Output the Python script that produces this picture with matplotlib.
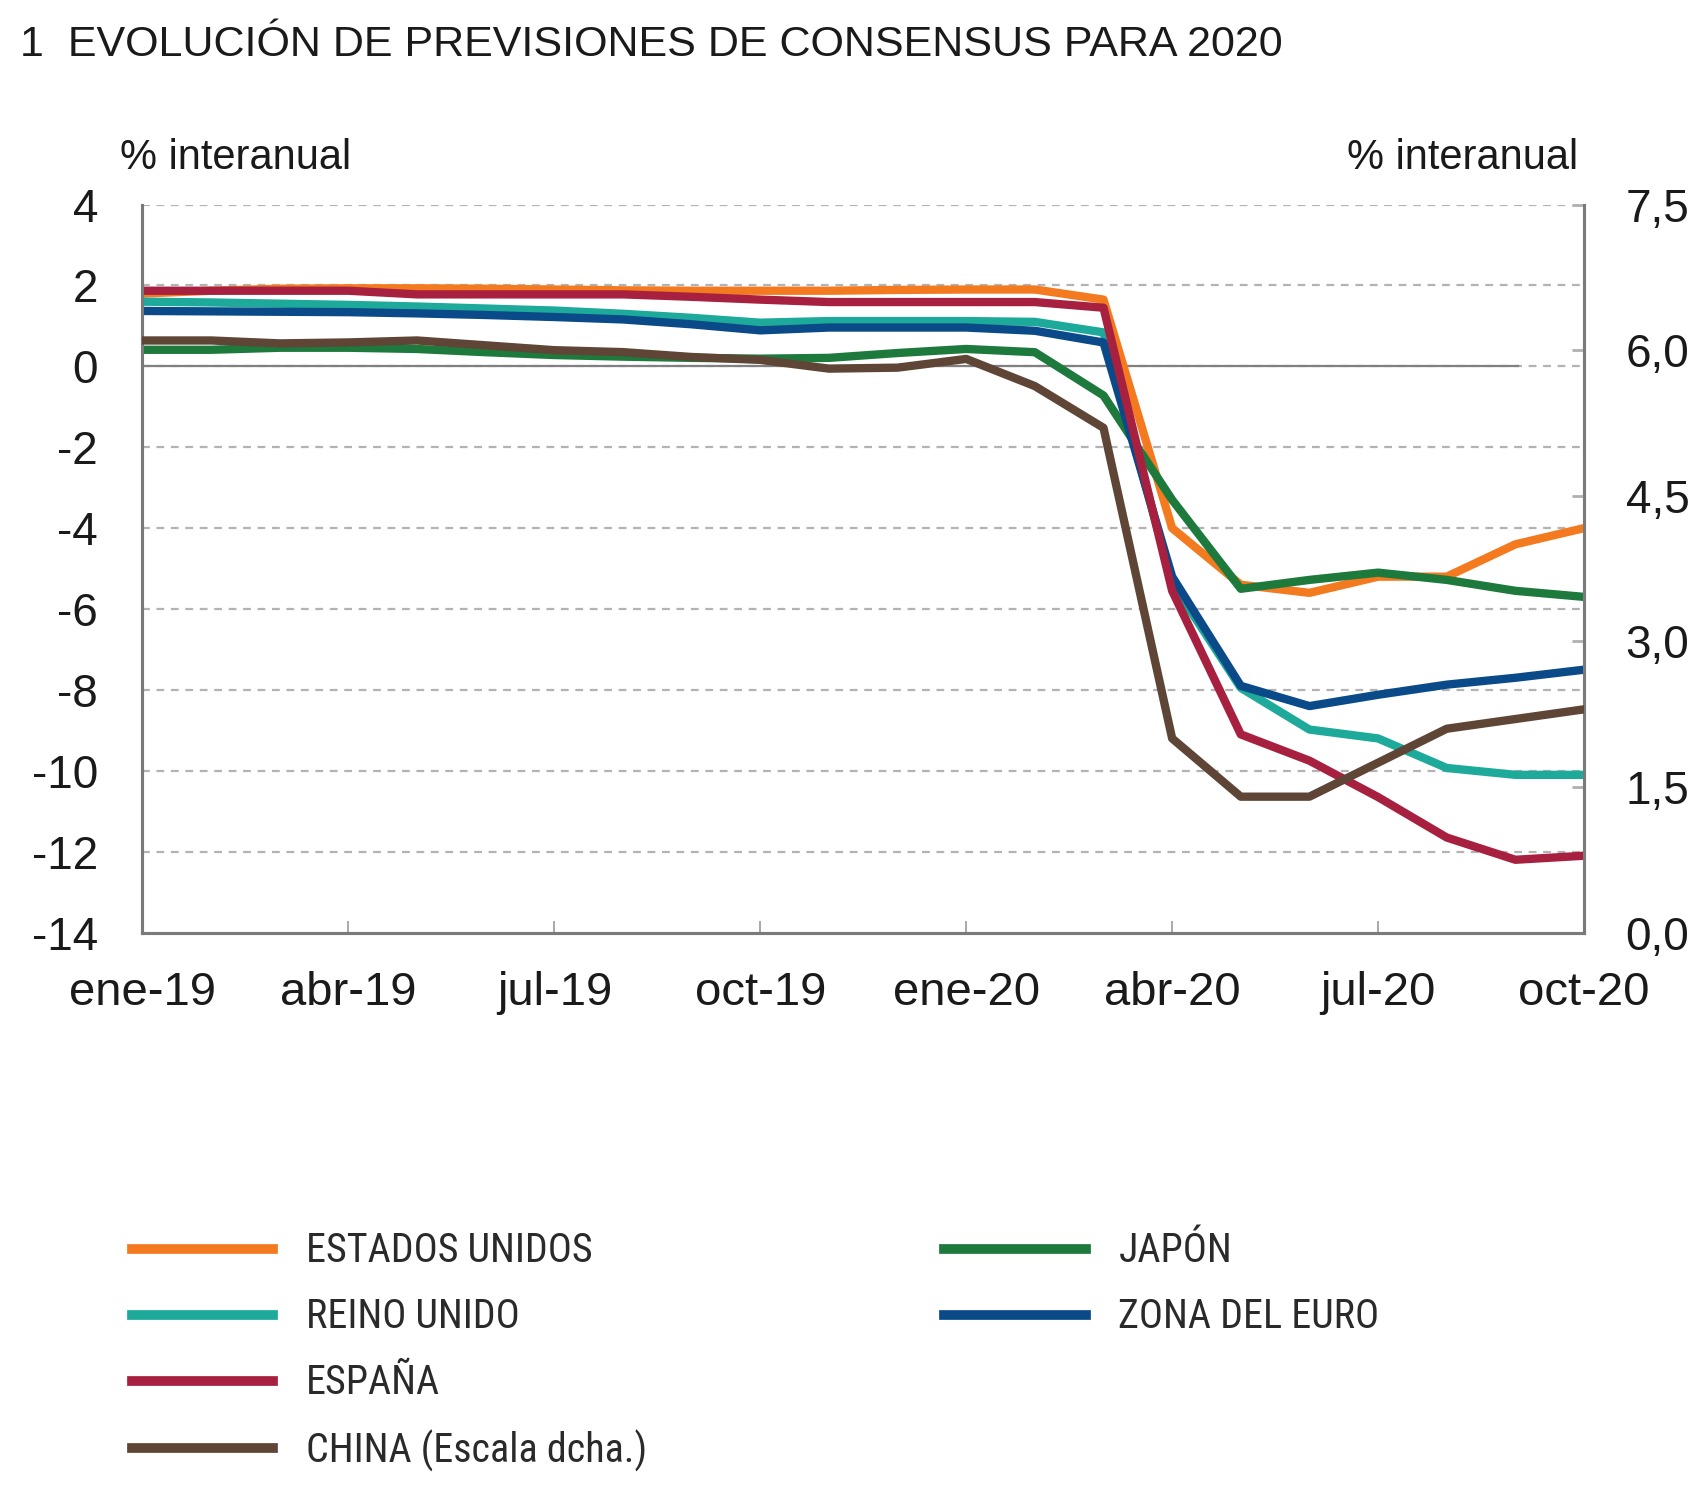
import matplotlib
matplotlib.use("Agg")
import matplotlib.pyplot as plt
import numpy as np
from matplotlib import font_manager
from matplotlib.font_manager import FontProperties

names = {f.name for f in font_manager.fontManager.ttflist}
base = 'Liberation Sans' if 'Liberation Sans' in names else 'DejaVu Sans'
plt.rcParams['font.family'] = [base, 'DejaVu Sans']

# condensed font for legend if available
cond = None
for pref in ('Liberation Sans Narrow', 'Roboto Condensed', 'Open Sans Condensed', 'Noto Sans Condensed',
             'Arial Narrow'):
    for f in font_manager.fontManager.ttflist:
        if f.name == pref and f.style == 'normal' and f.weight in (400, 'normal', 'regular'):
            cond = f.fname
            break
    if cond:
        break
if cond is None:
    for f in font_manager.fontManager.ttflist:
        if (f.stretch in ('condensed', 'semi-condensed', 'extra-condensed') or 'Condensed' in f.name
                or 'Narrow' in f.name) and f.style == 'normal' and f.weight in (400, 'normal', 'regular') \
                and 'Mono' not in f.name and 'Serif' not in f.name:
            cond = f.fname
            break
leg_fp = FontProperties(fname=cond) if cond else FontProperties(family=base)

months = ["ene-19", "feb-19", "mar-19", "abr-19", "may-19", "jun-19", "jul-19", "ago-19",
          "sep-19", "oct-19", "nov-19", "dic-19", "ene-20", "feb-20", "mar-20", "abr-20",
          "may-20", "jun-20", "jul-20", "ago-20", "sep-20", "oct-20"]
tick_labels = ["ene-19", "abr-19", "jul-19", "oct-19", "ene-20", "abr-20", "jul-20", "oct-20"]

eeuu = [1.8, 1.87, 1.92, 1.93, 1.93, 1.92, 1.9, 1.88, 1.87, 1.87, 1.87, 1.89, 1.9, 1.9, 1.65,
        -4.0, -5.4, -5.6, -5.2, -5.2, -4.4, -4.0]
reino_unido = [1.6, 1.58, 1.55, 1.52, 1.48, 1.43, 1.38, 1.3, 1.2, 1.08, 1.12, 1.12, 1.12, 1.1, 0.84,
               -5.35, -7.95, -8.98, -9.2, -9.93, -10.1, -10.1]
espana = [1.87, 1.87, 1.87, 1.87, 1.78, 1.78, 1.78, 1.78, 1.72, 1.65, 1.59, 1.59, 1.59, 1.59, 1.45,
          -5.55, -9.1, -9.75, -10.65, -11.65, -12.2, -12.1]
japon = [0.41, 0.41, 0.46, 0.46, 0.43, 0.35, 0.28, 0.24, 0.21, 0.19, 0.21, 0.33, 0.43, 0.35, -0.72,
         -3.3, -5.5, -5.28, -5.1, -5.28, -5.55, -5.7]
zona_euro = [1.37, 1.36, 1.35, 1.34, 1.31, 1.27, 1.22, 1.16, 1.04, 0.89, 0.96, 0.96, 0.96, 0.88, 0.59,
             -5.2, -7.9, -8.4, -8.12, -7.87, -7.7, -7.5]
china = [6.1, 6.1, 6.07, 6.08, 6.1, 6.05, 6.0, 5.98, 5.93, 5.9, 5.81, 5.82, 5.91, 5.63, 5.2,
         2.0, 1.4, 1.4, 1.75, 2.1, 2.2, 2.3]

c_us = '#F47A20'
c_uk = '#1DAA9B'
c_es = '#A8203F'
c_jp = '#1E7A3C'
c_ez = '#0B4A88'
c_cn = '#5E4535'
spine_c = '#7a7a7a'
txt_c = '#1a1a1a'

W, H = 1706, 1501
fig = plt.figure(figsize=(W / 100, H / 100), dpi=100)
ax = fig.add_axes([0.0835, 0.3787, 0.845, 0.485])
ax2 = ax.twinx()

x = np.arange(len(months))
lw = 6
ax.set_xlim(0, len(months) - 1)
ax.set_ylim(-14, 4)
ax2.set_ylim(0, 7.5)

for v in range(-12, 5, 2):
    ax.axhline(v, color='#b3b3b3', lw=1.6, dashes=(3.5, 3), zorder=0.5)
ax.axhline(0, xmin=0, xmax=0.954, color='#808080', lw=1.6, zorder=0.6)

l_us, = ax.plot(x, eeuu, color=c_us, lw=lw, zorder=3)
l_jp, = ax.plot(x, japon, color=c_jp, lw=lw, zorder=3)
l_uk, = ax.plot(x, reino_unido, color=c_uk, lw=lw, zorder=3)
l_ez, = ax.plot(x, zona_euro, color=c_ez, lw=lw, zorder=3)
l_es, = ax.plot(x, espana, color=c_es, lw=lw, zorder=3)
l_cn, = ax2.plot(x, china, color=c_cn, lw=lw, zorder=3)

ax.set_xticks(np.arange(0, len(months), 3))
ax.set_xticklabels(tick_labels)
ax.set_yticks(np.arange(-14, 5, 2))
ax.set_yticklabels([str(v) for v in range(-14, 5, 2)])
ax2.set_yticks(np.arange(0, 7.6, 1.5))
ax2.set_yticklabels([f"{v:.1f}".replace('.', ',') for v in np.arange(0, 7.6, 1.5)])

for a in (ax, ax2):
    a.spines['top'].set_visible(False)
    for s in ('left', 'right', 'bottom'):
        a.spines[s].set_color(spine_c)
        a.spines[s].set_linewidth(2.2)

ax.tick_params(axis='x', direction='in', length=9, width=1.2, color='#999999',
               labelsize=34, pad=28, labelcolor=txt_c)
ax.tick_params(axis='y', length=0, labelsize=33, pad=32, labelcolor=txt_c)
ax2.tick_params(axis='y', direction='in', length=9, width=2, color='#b0b0b0',
                labelsize=33, pad=30, labelcolor=txt_c)

fig.text(0.0115, 0.970, "1  EVOLUCIÓN DE PREVISIONES DE CONSENSUS PARA 2020", fontsize=31,
         ha='left', va='center', color=txt_c)
fig.text(0.0705, 0.895, "% interanual", fontsize=30, ha='left', va='center', color=txt_c)
fig.text(0.925, 0.895, "% interanual", fontsize=30, ha='right', va='center', color=txt_c)

# size legend font so that "ESTADOS UNIDOS" spans ~286 px, like the reference
renderer = fig.canvas.get_renderer()
probe = fig.text(0, 0, "ESTADOS UNIDOS", fontproperties=leg_fp, fontsize=30)
wpx = probe.get_window_extent(renderer).width
probe.remove()
fs = min(32.0, 30 * 286.0 / wpx)
em = fs * 100 / 72
probe = fig.text(0, 0, "ESPAÑA", fontproperties=leg_fp, fontsize=fs)
hpx = probe.get_window_extent(renderer).height
probe.remove()
row = 66.0
lsp = max(0.1, (row - hpx) / em)
top_y = 1 - (1251 - hpx / 2) / H

prop = leg_fp.copy()
prop.set_size(fs)
leg_kw = dict(frameon=False, handlelength=141 / em, handletextpad=33 / em,
              labelspacing=lsp, prop=prop, borderaxespad=0, borderpad=0, loc='upper left')
leg1 = fig.legend([l_us, l_uk, l_es, l_cn],
                  ["ESTADOS UNIDOS", "REINO UNIDO", "ESPAÑA", "CHINA (Escala dcha.)"],
                  bbox_to_anchor=(131.7 / W, top_y), **leg_kw)
leg2 = fig.legend([l_jp, l_ez], ["JAPÓN", "ZONA DEL EURO"],
                  bbox_to_anchor=(944.5 / W, top_y), **leg_kw)
for leg in (leg1, leg2):
    for h in leg.legend_handles:
        h.set_linewidth(7)
    for t in leg.get_texts():
        t.set_color('#2a2a2a')

fig.savefig("out.png", dpi=100, facecolor='white')
